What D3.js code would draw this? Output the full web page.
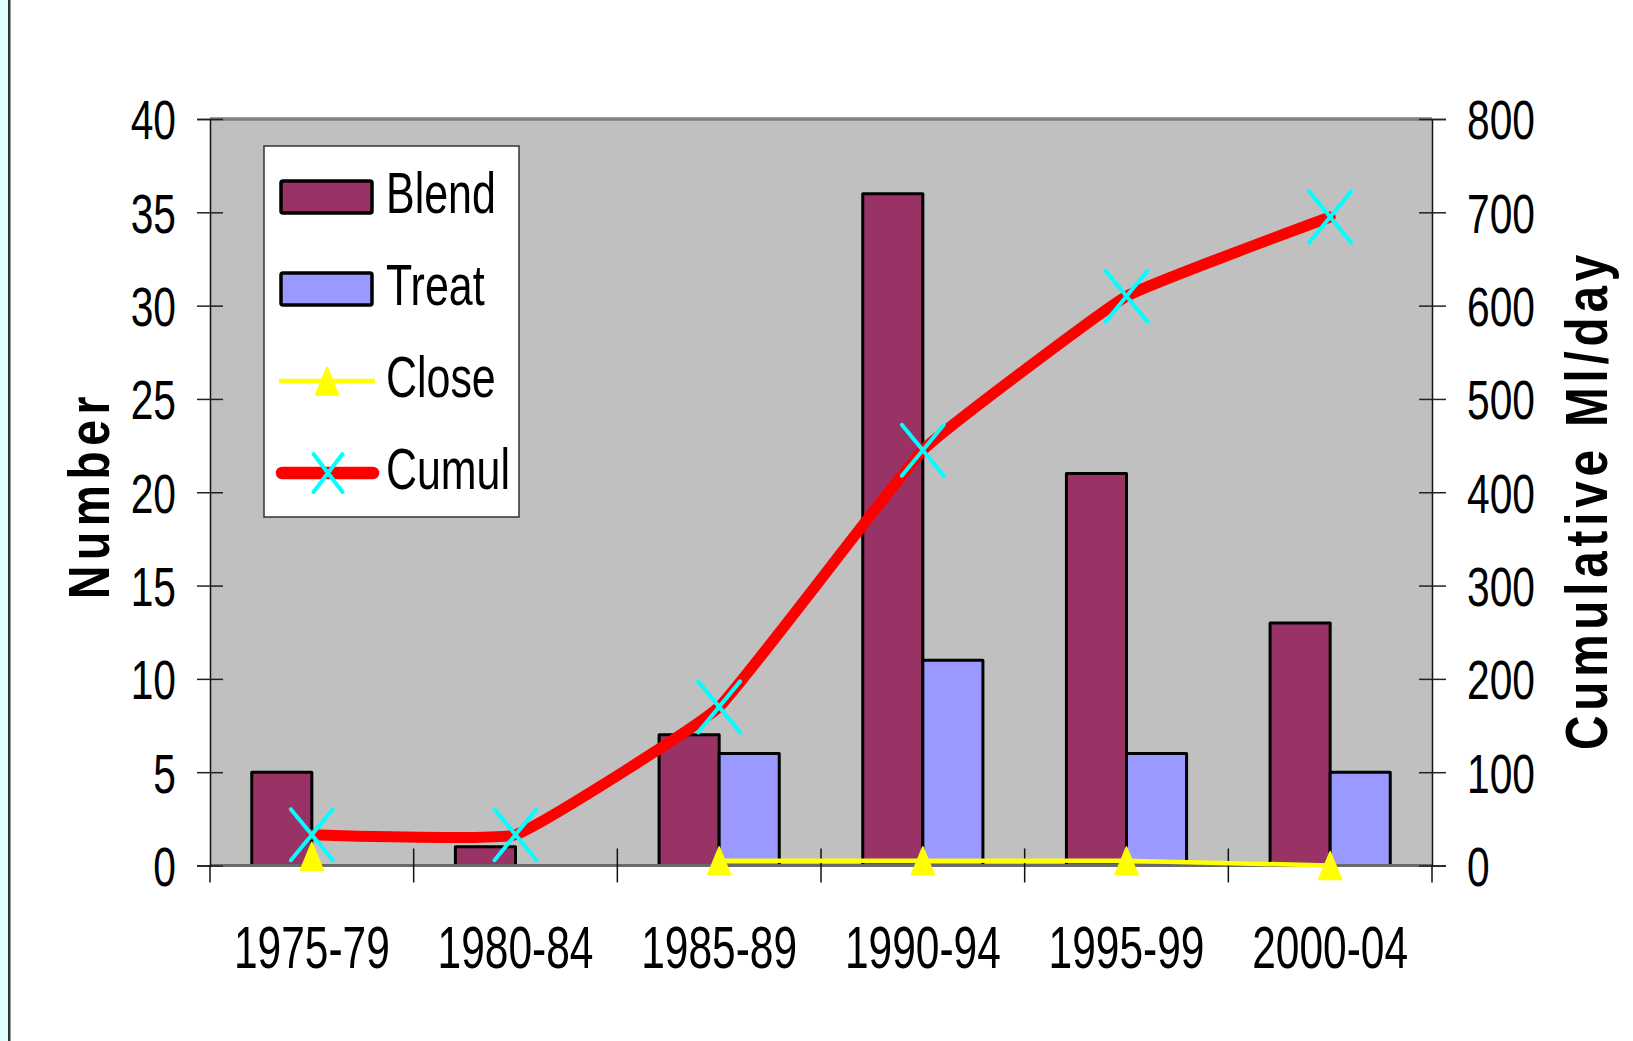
<!DOCTYPE html>
<html>
<head>
<meta charset="utf-8">
<script src="https://cdn.jsdelivr.net/npm/d3@7/dist/d3.min.js"></script>
<style>
  body { margin: 0; background: #fff; }
  svg { display: block; }
</style>
</head>
<body>
<script>
// data
var categories = ["1975-79", "1980-84", "1985-89", "1990-94", "1995-99", "2000-04"];
var blend = [5, 1, 7, 36, 21, 13];
var treat = [0, 0, 6, 11, 6, 5];
var close = [10, null, 5, 5, 5, 0];      // on the Ml/day axis
var cumul = [33, 33, 170, 445, 610, 695];  // cumulative Ml/day
var leftTicks = [0, 5, 10, 15, 20, 25, 30, 35, 40];
var rightTicks = [0, 100, 200, 300, 400, 500, 600, 700, 800];
var seriesNames = ["Blend", "Treat"];

var W = 1633, H = 1041;
var font = "'Liberation Sans', Arial, sans-serif";
var colors = { Blend: "#993366", Treat: "#9999FF" };

var svg = d3.select("body").append("svg").attr("width", W).attr("height", H);

// slide edge on the left
svg.append("rect").attr("x", 0).attr("y", 0).attr("width", 8).attr("height", H).attr("fill", "#E0FFFF");
svg.append("rect").attr("x", 8).attr("y", 0).attr("width", 2.5).attr("height", H).attr("fill", "#333");

// plot area
var plot = { left: 210, right: 1432, top: 119, bottom: 865.5 };
var pw = plot.right - plot.left, ph = plot.bottom - plot.top;
var g = svg.append("g").attr("transform", "translate(" + plot.left + "," + plot.top + ")");

// the source font is a condensed one: squeeze the glyphs horizontally
function squeeze(sel, k) {
    sel.each(function () {
        var w = this.getComputedTextLength();
        d3.select(this).attr("textLength", w * k).attr("lengthAdjust", "spacingAndGlyphs");
    });
}

var x0 = d3.scaleBand().domain(categories).range([0, pw]).padding(0);
var groupW = 0.59 * x0.bandwidth();
var x1 = d3.scaleBand().domain(seriesNames)
    .range([x0.bandwidth() / 2 - groupW / 2, x0.bandwidth() / 2 + groupW / 2]);
var y = d3.scaleLinear().domain([0, 40]).range([ph, 0]);
var y2 = d3.scaleLinear().domain([0, 800]).range([ph, 0]);

g.append("rect").attr("width", pw).attr("height", ph).attr("fill", "#C0C0C0");
g.append("line").attr("x1", 0).attr("x2", pw).attr("y1", 0).attr("y2", 0)
    .attr("stroke", "#808080").attr("stroke-width", 3.5);

// bars
var rows = categories.map(function (c, i) { return { cat: c, Blend: blend[i], Treat: treat[i] }; });
var grp = g.selectAll(".grp").data(rows).enter().append("g")
    .attr("class", "grp")
    .attr("transform", function (d) { return "translate(" + x0(d.cat) + ",0)"; });
grp.selectAll("rect")
    .data(function (d) {
        return seriesNames.map(function (k) { return { key: k, value: d[k] }; })
            .filter(function (d) { return d.value > 0; });
    })
    .enter().append("rect")
    .attr("x", function (d) { return x1(d.key); })
    .attr("y", function (d) { return y(d.value); })
    .attr("width", x1.bandwidth())
    .attr("height", function (d) { return y(0) - y(d.value); })
    .attr("fill", function (d) { return colors[d.key]; })
    .attr("stroke", "#000").attr("stroke-width", 3).attr("stroke-linejoin", "round");

// zero line
g.append("line").attr("x1", 0).attr("x2", pw).attr("y1", y(0)).attr("y2", y(0))
    .attr("stroke", "#6a6a6a").attr("stroke-width", 3);

// left axis
var axL = g.append("g").call(d3.axisLeft(y).tickValues(leftTicks).tickSize(13).tickPadding(0));
axL.select(".domain").attr("stroke", "#111").attr("stroke-width", 1.5);
axL.selectAll(".tick line").attr("x1", 13).attr("stroke", "#222").attr("stroke-width", 1.5);
axL.selectAll(".tick text").attr("x", -34).attr("dy", "0.36em")
    .attr("font-family", font).attr("font-size", 55).attr("fill", "#000");
squeeze(axL.selectAll(".tick text"), 0.74);

// right axis
var axR = g.append("g").attr("transform", "translate(" + pw + ",0)")
    .call(d3.axisRight(y2).tickValues(rightTicks).tickSize(14).tickPadding(0));
axR.select(".domain").attr("stroke", "#111").attr("stroke-width", 1.5);
axR.selectAll(".tick line").attr("x1", -13).attr("stroke", "#222").attr("stroke-width", 1.5);
axR.selectAll(".tick text").attr("x", 35).attr("dy", "0.36em")
    .attr("font-family", font).attr("font-size", 55).attr("fill", "#000");
squeeze(axR.selectAll(".tick text"), 0.74);

// category ticks (between groups) and labels
var bounds = categories.map(function (c) { return x0(c); }).concat([x0.range()[1]]);
g.selectAll(".xtick").data(bounds).enter().append("line")
    .attr("class", "xtick")
    .attr("x1", function (d) { return d; }).attr("x2", function (d) { return d; })
    .attr("y1", function (d, i) { return (i === 0 || i === bounds.length - 1) ? ph : ph - 17; })
    .attr("y2", ph + 17)
    .attr("stroke", "#111").attr("stroke-width", 1.5);
var xl = g.selectAll(".xlab").data(categories).enter().append("text")
    .attr("class", "xlab")
    .attr("x", function (d) { return x0(d) + x0.bandwidth() / 2; })
    .attr("y", ph + 102)
    .attr("text-anchor", "middle")
    .attr("font-family", font).attr("font-size", 59)
    .text(function (d) { return d; });
squeeze(xl, 0.72);

// Close line (yellow, triangles)
var cx = function (d, i) { return x0(categories[i]) + x0.bandwidth() / 2; };
var closeLine = d3.line()
    .defined(function (d) { return d !== null; })
    .x(cx).y(function (d) { return y2(d); });
g.append("path").attr("d", closeLine(close))
    .attr("fill", "none").attr("stroke", "#FFFF00").attr("stroke-width", 4.5);
function triangle(w, h) {
    return "M0," + (-h / 2) + "L" + (w / 2) + "," + (h / 2) + "L" + (-w / 2) + "," + (h / 2) + "Z";
}
g.selectAll(".tri").data(close).enter().append("path")
    .attr("class", "tri")
    .attr("display", function (d) { return d === null ? "none" : null; })
    .attr("transform", function (d, i) { return d === null ? null : "translate(" + cx(d, i) + "," + y2(d) + ")"; })
    .attr("d", triangle(23, 28))
    .attr("fill", "#FFFF00").attr("stroke", "#FFFF00").attr("stroke-width", 1.5).attr("stroke-linejoin", "round");

// Cumul line (red, lightly smoothed) with cyan X markers
var cumLine = d3.line().x(cx).y(function (d) { return y2(d); }).curve(d3.curveCardinal.tension(0.7));
g.append("path").attr("d", cumLine(cumul))
    .attr("fill", "none").attr("stroke", "#FF0000").attr("stroke-width", 11)
    .attr("stroke-linejoin", "round").attr("stroke-linecap", "round");
function cross(w, h) {
    return "M" + (-w / 2) + "," + (-h / 2) + "L" + (w / 2) + "," + (h / 2) +
        "M" + (w / 2) + "," + (-h / 2) + "L" + (-w / 2) + "," + (h / 2);
}
g.selectAll(".xm").data(cumul).enter().append("path")
    .attr("class", "xm")
    .attr("transform", function (d, i) { return "translate(" + cx(d, i) + "," + y2(d) + ")"; })
    .attr("d", cross(42, 51))
    .attr("fill", "none").attr("stroke", "#00FFFF").attr("stroke-width", 4).attr("stroke-linecap", "round");

// axis titles (bold, condensed glyphs with wide letter spacing)
svg.append("text")
    .attr("transform", "translate(109,495) rotate(-90)")
    .attr("text-anchor", "middle")
    .attr("font-family", font).attr("font-weight", "bold").attr("font-size", 58)
    .attr("letter-spacing", 7)
    .attr("textLength", 208).attr("lengthAdjust", "spacingAndGlyphs")
    .text("Number");
svg.append("text")
    .attr("transform", "translate(1607,500) rotate(-90)")
    .attr("text-anchor", "middle")
    .attr("font-family", font).attr("font-weight", "bold").attr("font-size", 60)
    .attr("letter-spacing", 6)
    .attr("textLength", 500).attr("lengthAdjust", "spacingAndGlyphs")
    .text("Cumulative Ml/day");

// legend
var lg = svg.append("g");
lg.append("rect").attr("x", 264).attr("y", 146).attr("width", 255).attr("height", 371)
    .attr("fill", "#fff").attr("stroke", "#333").attr("stroke-width", 1.5);
var legendItems = ["Blend", "Treat", "Close", "Cumul"];
legendItems.forEach(function (name, i) {
    var cy = 197 + i * 92;
    if (name === "Blend" || name === "Treat") {
        lg.append("rect").attr("x", 281).attr("y", cy - 16).attr("width", 91).attr("height", 32)
            .attr("rx", 2).attr("fill", colors[name]).attr("stroke", "#000").attr("stroke-width", 3.5);
    } else if (name === "Close") {
        lg.append("line").attr("x1", 279).attr("x2", 375).attr("y1", cy).attr("y2", cy)
            .attr("stroke", "#FFFF00").attr("stroke-width", 4.5);
        lg.append("path").attr("transform", "translate(327," + cy + ")").attr("d", triangle(23, 28))
            .attr("fill", "#FFFF00").attr("stroke", "#FFFF00").attr("stroke-width", 1.5).attr("stroke-linejoin", "round");
    } else {
        lg.append("line").attr("x1", 282).attr("x2", 373).attr("y1", cy).attr("y2", cy)
            .attr("stroke", "#FF0000").attr("stroke-width", 12.5).attr("stroke-linecap", "round");
        lg.append("path").attr("transform", "translate(328," + cy + ")").attr("d", cross(29, 38))
            .attr("fill", "none").attr("stroke", "#00FFFF").attr("stroke-width", 4).attr("stroke-linecap", "round");
    }
    var t = lg.append("text").attr("x", 386).attr("y", cy + 16)
        .attr("font-family", font).attr("font-size", 58).text(name);
    squeeze(t, 0.74);
});
</script>
</body>
</html>
